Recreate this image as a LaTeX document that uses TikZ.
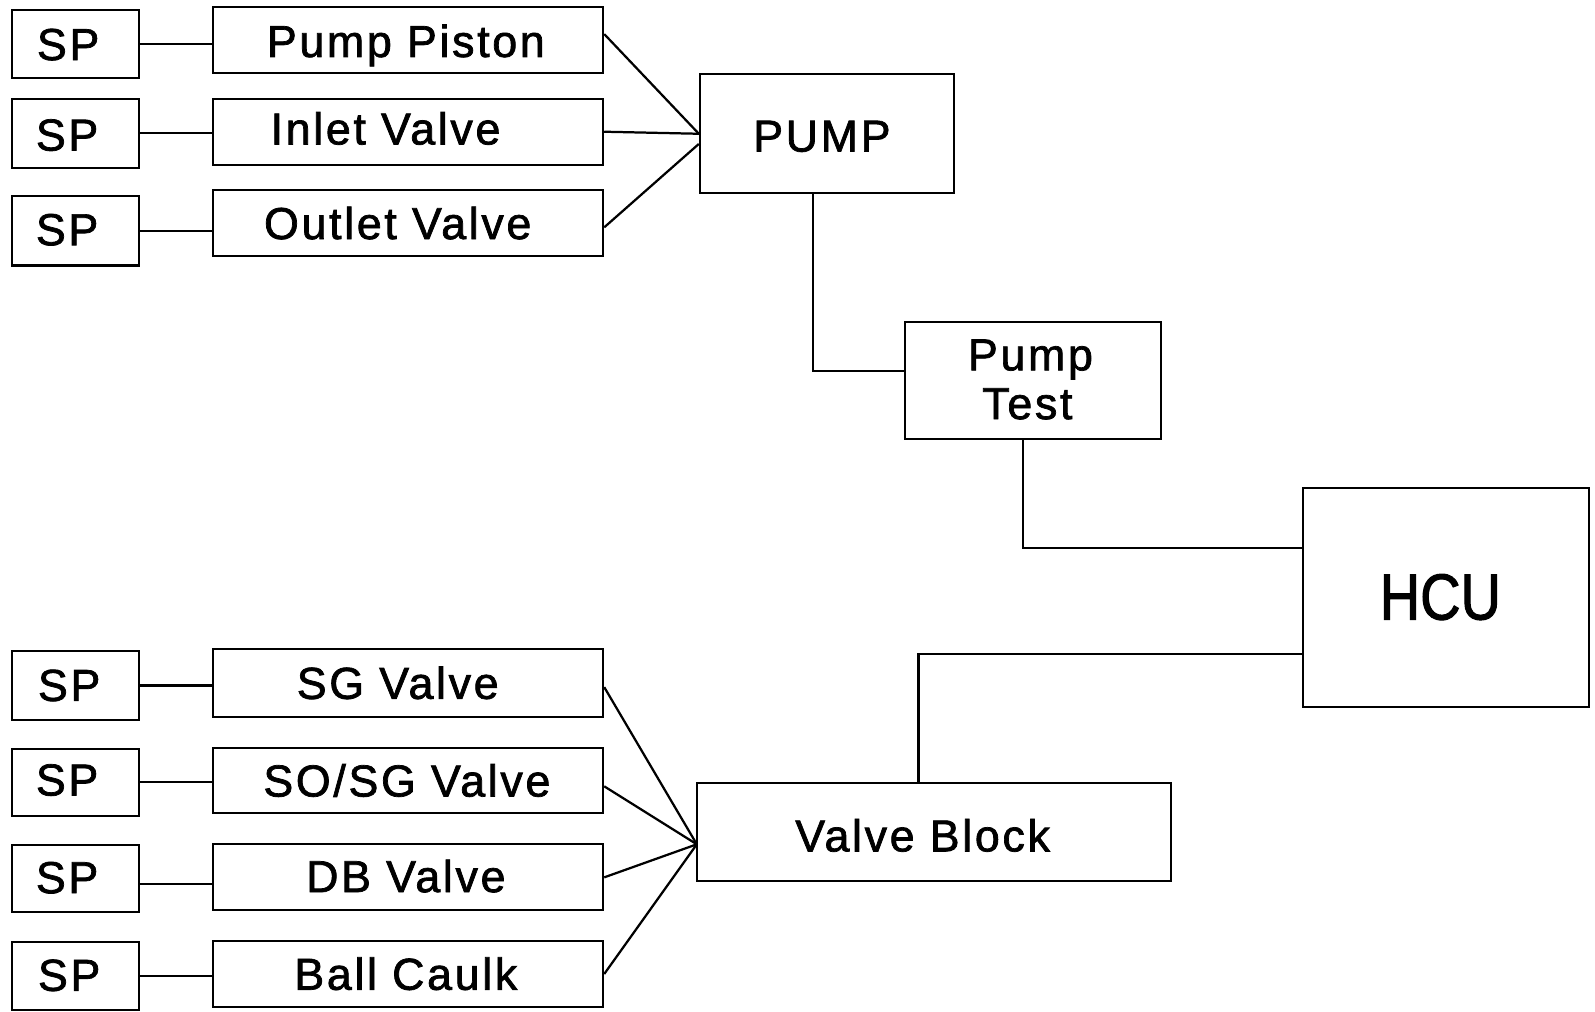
\documentclass[tikz,border=0pt]{standalone}
\usepackage{fontspec}
\setmainfont{Liberation Sans}[LetterSpace=6,FakeBold=1.6]
\newfontfamily\hcufont{Liberation Sans}[FakeStretch=0.86,FakeBold=1.6]
\usetikzlibrary{fit}
\begin{document}
\begin{tikzpicture}[x=0.5pt,y=-0.5pt,
  box/.style={draw, line width=1pt, inner sep=0pt},
  txt/.style={inner sep=0pt, anchor=base, font=\fontsize{22}{26}\selectfont},
  big/.style={inner sep=0pt, anchor=base, font=\hcufont\fontsize{32}{38}\selectfont},
  conn/.style={line width=1.1pt}]
\useasboundingbox (0,0) rectangle (1568,994);
% top group
\node[box, fit={(12,10) (137,77)}] (sp1) {};
\node[box, fit={(12,97) (137,165)}] (sp2) {};
\node[box, fit={(12,193) (137,261)}] (sp3) {};
\node[box, fit={(209,7) (593,72)}] (pp) {};
\node[box, fit={(209,97) (593,162)}] (iv) {};
\node[box, fit={(209,187) (593,252)}] (ov) {};
\node[txt] (tsp1) at (67,59) {SP};
\node[txt] (tsp2) at (66,148) {SP};
\node[txt] (tsp3) at (66,241) {SP};
\node[txt] (tpp) at (399,56) {Pump Piston};
\node[txt] (tiv) at (379,142) {Inlet Valve};
\node[txt] (tov) at (391,235) {Outlet Valve};
% pump
\node[box, fit={(688,73) (938,190)}] (pump) {};
\node[txt] (tpump) at (808,149) {PUMP};
% pump test
\node[box, fit={(890,317) (1141,432)}] (pt) {};
\node[txt] (tpt1) at (1013,364) {Pump};
\node[txt] (tpt2) at (1010,412) {Test};
% HCU
\node[box, fit={(1281,480) (1562,695)}] (hcu) {};
\node[big] (thcu) at (1416,609) {HCU};
% valve block
\node[box, fit={(685,770) (1151,866)}] (vb) {};
\node[txt] (tvb) at (907,837) {Valve Block};
\coordinate (vbin) at (685,830);
% bottom group
\node[box, fit={(12,640) (137,708)}] (sp4) {};
\node[box, fit={(12,736) (137,802)}] (sp5) {};
\node[box, fit={(12,831) (137,897)}] (sp6) {};
\node[box, fit={(12,926) (137,993)}] (sp7) {};
\node[box, fit={(209,638) (593,705)}] (sg) {};
\node[box, fit={(209,735) (593,799)}] (sosg) {};
\node[box, fit={(209,830) (593,895)}] (db) {};
\node[box, fit={(209,925) (593,990)}] (bc) {};
\node[txt] (tsp4) at (68,689) {SP};
\node[txt] (tsp5) at (66,782) {SP};
\node[txt] (tsp6) at (66,878) {SP};
\node[txt] (tsp7) at (68,974) {SP};
\node[txt] (tsg) at (391,687) {SG Valve};
\node[txt] (tsosg) at (400,783) {SO/SG Valve};
\node[txt] (tdb) at (399,877) {DB Valve};
\node[txt] (tbc) at (399,973) {Ball Caulk};
% connectors top
\draw[conn] (sp1.east) -- (sp1.east -| pp.west);
\draw[conn] (sp2.east) -- (sp2.east -| iv.west);
\draw[conn] (sp3.east) -- (sp3.east -| ov.west);
\draw[conn] ([yshift=3pt]pp.east) -- (pump.west);
\draw[conn] (iv.east) -- (pump.west);
\draw[conn] ([yshift=-2pt]ov.east) -- ([yshift=-5pt]pump.west);
\draw[conn] ([xshift=-7pt]pump.south) |- ([yshift=5pt]pt.west);
\draw[conn] ([xshift=-4.75pt]pt.south) |- ([yshift=24.25pt]hcu.west);
\draw[conn] ([yshift=-27.75pt]hcu.west) -| ([xshift=-7.5pt]vb.north);
% connectors bottom
\draw[conn] (sp4.east) -- (sp4.east -| sg.west);
\draw[conn] (sp5.east) -- (sp5.east -| sosg.west);
\draw[conn] ([yshift=-2.5pt]sp6.east) -- ([yshift=-2.5pt]sp6.east -| db.west);
\draw[conn] (sp7.east) -- (sp7.east -| bc.west);
\draw[conn] ([yshift=-2pt]sg.east) -- (vbin);
\draw[conn] ([yshift=-3pt]sosg.east) -- (vbin);
\draw[conn] (db.east) -- (vbin);
\draw[conn] (bc.east) -- (vbin);
\end{tikzpicture}
\end{document}
